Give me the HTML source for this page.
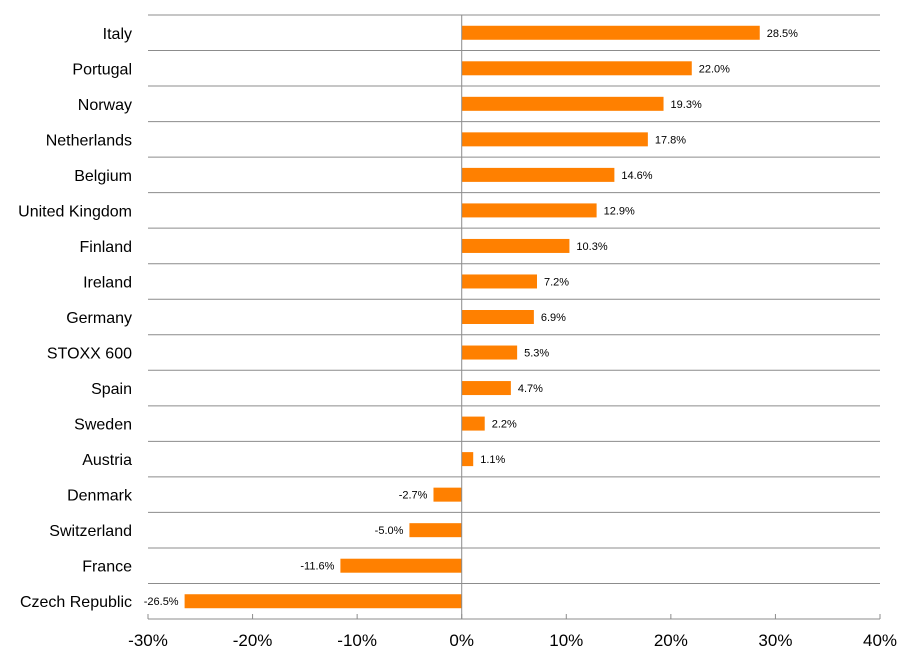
<!DOCTYPE html>
<html><head><meta charset="utf-8"><style>
body{margin:0;background:#fff}
svg{display:block;font-family:"Liberation Sans",Calibri,sans-serif}
</style></head><body>
<svg id="chart" width="912" height="663" xmlns="http://www.w3.org/2000/svg"></svg>
<script>
const categories=["Italy","Portugal","Norway","Netherlands","Belgium","United Kingdom","Finland","Ireland","Germany","STOXX 600","Spain","Sweden","Austria","Denmark","Switzerland","France","Czech Republic"];
const values=[28.5,22.0,19.3,17.8,14.6,12.9,10.3,7.2,6.9,5.3,4.7,2.2,1.1,-2.7,-5.0,-11.6,-26.5];
const ticks=[-30,-20,-10,0,10,20,30,40];
const svgEl=document.getElementById('chart');
const NS='http://www.w3.org/2000/svg';
const x0=148,x1=880,plotTop=15,plotBottom=619,vmin=-30,vmax=40;
const xs=v=>x0+(v-vmin)/(vmax-vmin)*(x1-x0);
const rowH=(plotBottom-plotTop)/categories.length;
function mk(tag,attrs){const e=document.createElementNS(NS,tag);for(const k in attrs)e.setAttribute(k,attrs[k]);svgEl.appendChild(e);return e;}
for(let i=0;i<categories.length;i++){
  const l=mk('line',{x1:x0,x2:x1,y1:plotTop+i*rowH,y2:plotTop+i*rowH,stroke:'#8c8c8c','stroke-width':1});
  
  
}
categories.forEach((c,i)=>{
  const cy=plotTop+(i+0.5)*rowH, v=values[i];
  const xa=xs(Math.min(0,v)), xb=xs(Math.max(0,v));
  const r=mk('rect',{x:xa,y:cy-7,width:xb-xa,height:14,fill:'#ff8000'});
  
  
  const t=mk('text',{x:v>=0?xb+7:xa-6,y:cy+4,'font-size':11,fill:'#000','text-anchor':v>=0?'start':'end'});
  t.textContent=v.toFixed(1)+'%';
  
  
  const lb=mk('text',{x:132,y:cy+6,'font-size':16,fill:'#000','text-anchor':'end'});
  lb.textContent=c;
  
  
});
const za=mk('line',{x1:xs(0),x2:xs(0),y1:plotTop,y2:plotBottom,stroke:'#8c8c8c','stroke-width':1});


const xaxis=mk('line',{x1:x0,x2:x1,y1:plotBottom,y2:plotBottom,stroke:'#8c8c8c','stroke-width':1});


ticks.forEach(t=>{
  const tk=mk('line',{x1:xs(t),x2:xs(t),y1:plotBottom-5,y2:plotBottom,stroke:'#8c8c8c','stroke-width':1});
  
  
  const tl=mk('text',{x:xs(t),y:646,'font-size':17,'text-anchor':'middle',fill:'#000'});
  tl.textContent=t+'%';
  
  
});
</script>
</body></html>
